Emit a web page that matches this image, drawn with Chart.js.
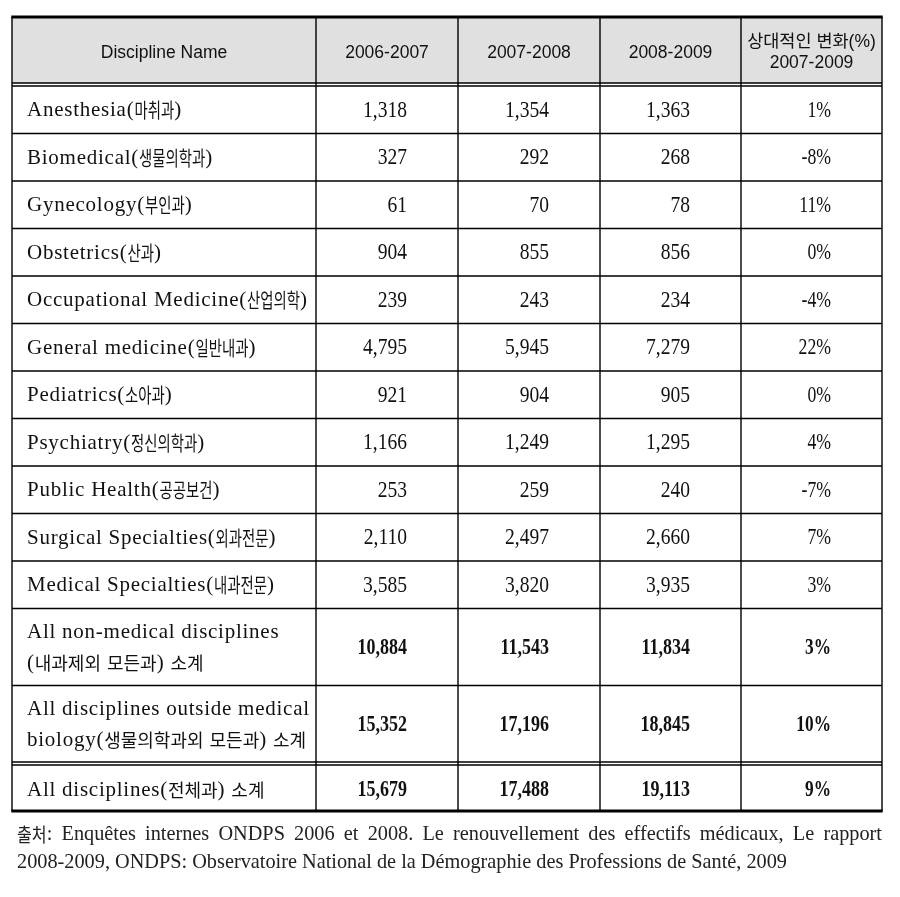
<!DOCTYPE html>
<html>
<head>
<meta charset="utf-8">
<script src="https://cdn.jsdelivr.net/npm/chart.js@4.4.1/dist/chart.umd.min.js"></script>
<style>
  body { margin: 0; background: #fff; }
</style>
</head>
<body>
<canvas id="myChart" width="900" height="897"></canvas>
<script>
// table content
const headers = ['Discipline Name', '2006-2007', '2007-2008', '2008-2009', '상대적인 변화(%)\n2007-2009'];
const disciplines = [
  'Anesthesia(마취과)',
  'Biomedical(생물의학과)',
  'Gynecology(부인과)',
  'Obstetrics(산과)',
  'Occupational Medicine(산업의학)',
  'General medicine(일반내과)',
  'Pediatrics(소아과)',
  'Psychiatry(정신의학과)',
  'Public Health(공공보건)',
  'Surgical Specialties(외과전문)',
  'Medical Specialties(내과전문)',
  'All non-medical disciplines\n(내과제외 모든과) 소계',
  'All disciplines outside medical\nbiology(생물의학과외 모든과) 소계',
  'All disciplines(전체과) 소계',
];
const values2006 = [1318, 327, 61, 904, 239, 4795, 921, 1166, 253, 2110, 3585, 10884, 15352, 15679];
const values2007 = [1354, 292, 70, 855, 243, 5945, 904, 1249, 259, 2497, 3820, 11543, 17196, 17488];
const values2008 = [1363, 268, 78, 856, 234, 7279, 905, 1295, 240, 2660, 3935, 11834, 18845, 19113];
const relChange = [1, -8, 11, 0, -4, 22, 0, 4, -7, 7, 3, 3, 10, 9];
const subtotalCount = 3;
const sourceLines = [
  '출처: Enquêtes internes ONDPS 2006 et 2008. Le renouvellement des effectifs médicaux, Le rapport',
  '2008-2009, ONDPS: Observatoire National de la Démographie des Professions de Santé, 2009',
];

// layout (scale units map 1:1 to the canvas)
const colEdges = [12, 316, 458, 600, 741, 882];
const tableTop = 17;
const headerBottom = 86;
const rowHeights = [47.5, 47.5, 47.5, 47.5, 47.5, 47.5, 47.5, 47.5, 47.5, 47.5, 47.5, 77, 76.5, 46];
const nameStyle = { font: '21px "Liberation Serif"', sx: 1, ls: 0.75 };
const koreanStyle = { font: '20px "Noto Sans CJK KR"', sx: 0.72, ls: 0 };
const koreanWide = { font: '18px "Noto Sans CJK KR"', sx: 1, ls: 0 };
const numStyle = { font: '23px "Liberation Serif"', sx: 0.85, ls: 0 };
const pctStyle = { font: '23px "Liberation Serif"', sx: 0.77, ls: 0 };
const boldStyle = { font: 'bold 22.5px "Liberation Serif"', sx: 0.8, ls: 0 };
const boldPctStyle = { font: 'bold 22.5px "Liberation Serif"', sx: 0.77, ls: 0 };
const noteStyle = { font: '20.3px "Liberation Serif"', sx: 1, ls: 0 };
const noteKorean = { font: '19px "Noto Sans CJK KR"', sx: 0.85, ls: 0 };
const headFont = '17.5px "Liberation Sans", "Noto Sans CJK KR"';

const rowEdges = [headerBottom];
rowHeights.forEach((h, i) => rowEdges.push(rowEdges[i] + h + (i === rowHeights.length - 2 ? 3 : 0)));

const isKorean = (s) => /[\u3131-\uD79D]/.test(s);

function runsOf(text) {
  return text.split(/([\u3131-\uD79D]+)/).filter((s) => s.length);
}

function widthOf(ctx, text, style) {
  ctx.font = style.font;
  ctx.letterSpacing = '0px';
  return (ctx.measureText(text).width + style.ls * text.length) * style.sx;
}

function fillScaled(ctx, text, x, y, style, align) {
  const w = widthOf(ctx, text, style);
  const left = align === 'right' ? x - w : x;
  ctx.save();
  ctx.translate(left, y);
  ctx.scale(style.sx, 1);
  ctx.textAlign = 'left';
  ctx.letterSpacing = style.ls + 'px';
  ctx.fillText(text, 0, 0);
  ctx.restore();
  return w;
}

function richWidth(ctx, text, style, kStyle) {
  return runsOf(text).reduce((w, r) => w + widthOf(ctx, r, isKorean(r) ? kStyle : style), 0);
}

function drawRich(ctx, text, x, y, style, kStyle) {
  runsOf(text).forEach((r) => {
    x += fillScaled(ctx, r, x, y, isKorean(r) ? kStyle : style, 'left');
  });
}

function drawJustified(ctx, text, x, y, width, style, kStyle) {
  const words = text.split(' ');
  const widths = words.map((w) => richWidth(ctx, w, style, kStyle));
  const gap = (width - widths.reduce((a, b) => a + b, 0)) / (words.length - 1);
  words.forEach((w, i) => {
    drawRich(ctx, w, x, y, style, kStyle);
    x += widths[i] + gap;
  });
}

const tablePlugin = {
  id: 'tablePlugin',
  afterDraw(chart) {
    const { ctx } = chart;
    const sx = chart.scales.x;
    const sy = chart.scales.y;
    const X = colEdges.map((v) => sx.getPixelForValue(v));
    const top = sy.getPixelForValue(tableTop);
    const hb = sy.getPixelForValue(headerBottom);
    const R = rowEdges.map((v) => sy.getPixelForValue(v));
    const bottom = R[R.length - 1];
    ctx.save();

    // header
    ctx.fillStyle = '#e0e0e0';
    ctx.fillRect(X[0], top, X[5] - X[0], hb - 3 - top);
    ctx.fillStyle = '#111';
    ctx.font = headFont;
    ctx.textAlign = 'center';
    ctx.textBaseline = 'middle';
    headers.forEach((h, i) => {
      const cx = (X[i] + X[i + 1]) / 2;
      const lines = h.split('\n');
      lines.forEach((l, j) => {
        ctx.fillText(l, cx, (top + hb - 3) / 2 + 3 + (j - (lines.length - 1) / 2) * 21);
      });
    });

    // body
    disciplines.forEach((name, i) => {
      const y0 = R[i] + (i === disciplines.length - 1 ? 3 : 0);
      const cy = (y0 + R[i + 1] - (i === disciplines.length - 2 ? 3 : 0)) / 2 + 1;
      const bold = i >= disciplines.length - subtotalCount;
      const lines = name.split('\n');
      ctx.fillStyle = '#111';
      lines.forEach((l, j) => {
        const ly = cy + (j - (lines.length - 1) / 2) * 31;
        drawRich(ctx, l, X[0] + 15, ly, nameStyle, bold ? koreanWide : koreanStyle);
      });
      const cells = [values2006[i], values2007[i], values2008[i]].map((v) => v.toLocaleString('en-US'));
      cells.forEach((c, k) => fillScaled(ctx, c, X[k + 2] - 51, cy, bold ? boldStyle : numStyle, 'right'));
      fillScaled(ctx, relChange[i] + '%', X[5] - 51, cy, bold ? boldPctStyle : pctStyle, 'right');
    });

    // grid lines
    ctx.strokeStyle = '#000';
    ctx.lineWidth = 1.4;
    ctx.beginPath();
    for (let k = 0; k < X.length; k++) {
      ctx.moveTo(X[k], top);
      ctx.lineTo(X[k], bottom);
    }
    ctx.moveTo(X[0], hb - 3); ctx.lineTo(X[5], hb - 3);
    for (let r = 0; r < R.length - 1; r++) {
      ctx.moveTo(X[0], R[r]);
      ctx.lineTo(X[5], R[r]);
    }
    ctx.moveTo(X[0], R[R.length - 2] - 3); ctx.lineTo(X[5], R[R.length - 2] - 3);
    ctx.stroke();
    ctx.lineWidth = 3;
    ctx.beginPath();
    ctx.moveTo(X[0] - 0.7, top); ctx.lineTo(X[5] + 0.7, top);
    ctx.moveTo(X[0] - 0.7, bottom); ctx.lineTo(X[5] + 0.7, bottom);
    ctx.stroke();

    // source note
    ctx.fillStyle = '#222';
    const left = sx.getPixelForValue(17);
    drawJustified(ctx, sourceLines[0], left, sy.getPixelForValue(835), sx.getPixelForValue(882) - left, noteStyle, noteKorean);
    drawRich(ctx, sourceLines[1], left, sy.getPixelForValue(863), noteStyle, noteKorean);
    ctx.restore();
  },
};

const ctx = document.getElementById('myChart').getContext('2d');
const chart = new Chart(ctx, {
  type: 'scatter',
  data: { datasets: [{ data: [] }] },
  options: {
    responsive: false,
    animation: false,
    layout: { padding: 0 },
    plugins: { legend: { display: false }, tooltip: { enabled: false } },
    scales: {
      x: { type: 'linear', min: 0, max: 900, display: false },
      y: { type: 'linear', min: 0, max: 897, reverse: true, display: false },
    },
  },
  plugins: [tablePlugin],
});
</script>
</body>
</html>
